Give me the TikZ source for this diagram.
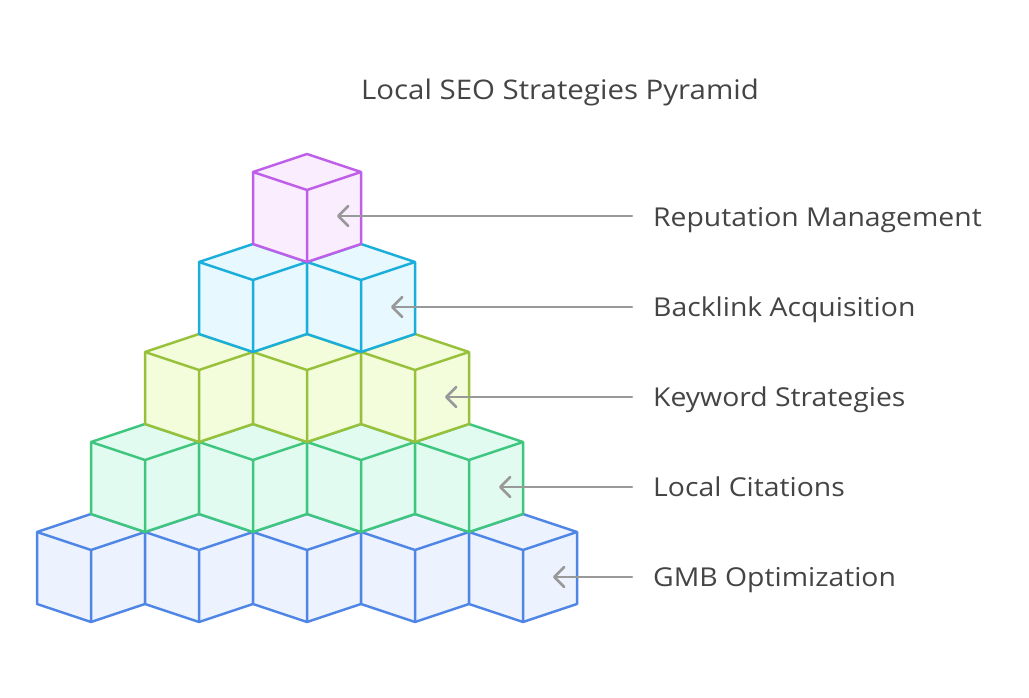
\documentclass[tikz,border=0pt]{standalone}
\usepackage{fontspec}
\setmainfont{Open Sans}[FakeStretch=1.09]
\usepackage{tikz}
\usetikzlibrary{arrows.meta}
\definecolor{textgray}{RGB}{68, 68, 68}
\definecolor{arrowgray}{RGB}{153, 153, 153}
\definecolor{gmbstroke}{RGB}{79, 134, 230}
\definecolor{gmbfill}{RGB}{237, 243, 254}
\definecolor{citationstroke}{RGB}{62, 198, 127}
\definecolor{citationfill}{RGB}{225, 251, 240}
\definecolor{keywordstroke}{RGB}{151, 193, 58}
\definecolor{keywordfill}{RGB}{243, 253, 220}
\definecolor{backlinkstroke}{RGB}{26, 174, 219}
\definecolor{backlinkfill}{RGB}{231, 248, 254}
\definecolor{reputationstroke}{RGB}{191, 94, 232}
\definecolor{reputationfill}{RGB}{250, 238, 254}
\tikzset{
	cubeline/.style={line width=2.5, line join=round},
	pointer/.style={arrowgray, line width=2.5, line cap=round, -{Straight Barb[round, length=10pt, width=20pt]}},
	label/.style={textgray, anchor=base west, font=\fontsize{26}{30}\selectfont, inner sep=0},
}
% cube sitting on its bottom vertex (#1,#2), colour prefix #3
\newcommand{\cubeat}[3]{%
	\draw[cubeline, draw=#3stroke, fill=#3fill] (#1,#2) -- ++(-54,-18) -- ++(0,-72) -- ++(54,-18) -- ++(54,18) -- ++(0,72) -- cycle;
	\draw[cubeline, draw=#3stroke] (#1-54,#2-90) -- (#1,#2-72) -- (#1+54,#2-90) (#1,#2-72) -- (#1,#2);
}

\begin{document}
\begin{tikzpicture}[x=1pt, y=-1pt]
			\useasboundingbox (0, 0) rectangle (1029, 697);
			
			% TITRE
			\node[textgray, anchor=base, font=\fontsize{27}{32}\selectfont, inner sep=0] (title) at (560, 99.5) {Local SEO Strategies Pyramid};
			
			% RANG 1 : GMB
			\foreach \cx in {91, 199, 307, 415, 523}
				\cubeat{\cx}{622}{gmb};
			
			% RANG 2 : CITATIONS
			\foreach \cx in {145, 253, 361, 469}
				\cubeat{\cx}{532}{citation};
			
			% RANG 3 : KEYWORDS
			\foreach \cx in {199, 307, 415}
				\cubeat{\cx}{442}{keyword};
			
			% RANG 4 : BACKLINKS
			\foreach \cx in {253, 361}
				\cubeat{\cx}{352}{backlink};
			
			% RANG 5 : REPUTATION
			\cubeat{307}{262}{reputation};
			
			% ETIQUETTES
			\node[label] (gmb) at (653, 586.5) {GMB Optimization};
			\node[label] (citations) at (653, 496.5) {Local Citations};
			\node[label] (keywords) at (653, 406.5) {Keyword Strategies};
			\node[label] (backlinks) at (653, 316.5) {Backlink Acquisition};
			\node[label] (reputation) at (653, 226) {Reputation Management};
			
			% FLECHES
			\coordinate (gmbtail) at (632, 577);
			\coordinate (gmbtip) at (553, 577);
			\coordinate (citationstail) at (632, 487);
			\coordinate (citationstip) at (499, 487);
			\coordinate (keywordstail) at (632, 397);
			\coordinate (keywordstip) at (445, 397);
			\coordinate (backlinkstail) at (632, 307);
			\coordinate (backlinkstip) at (391, 307);
			\coordinate (reputationtail) at (632, 216);
			\coordinate (reputationtip) at (337, 216);
			\draw[pointer] (gmbtail) -- (gmbtip);
			\draw[pointer] (citationstail) -- (citationstip);
			\draw[pointer] (keywordstail) -- (keywordstip);
			\draw[pointer] (backlinkstail) -- (backlinkstip);
			\draw[pointer] (reputationtail) -- (reputationtip);
			
		\end{tikzpicture}
\end{document}
